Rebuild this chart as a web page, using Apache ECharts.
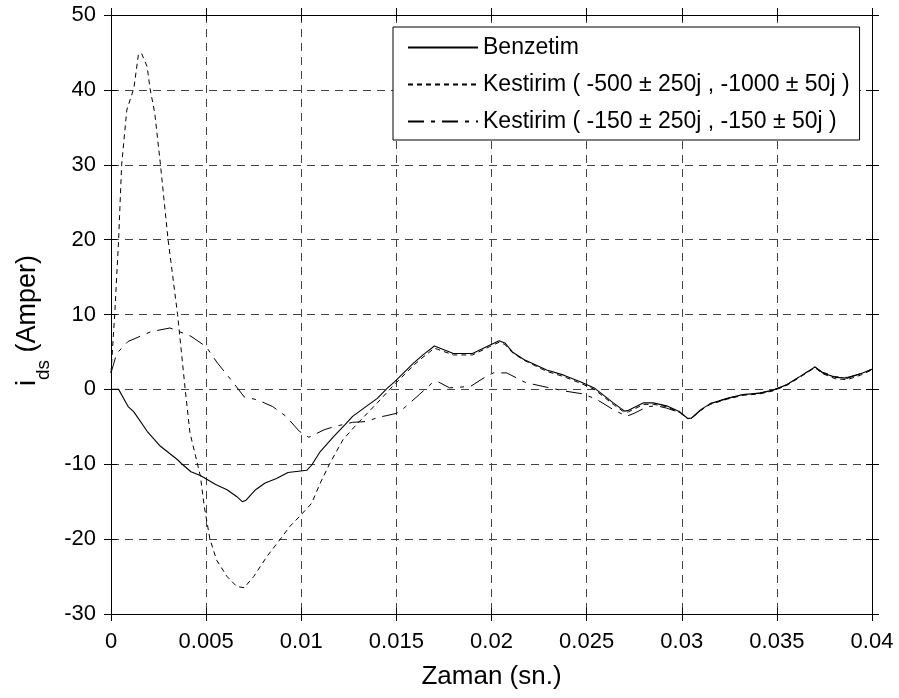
<!DOCTYPE html>
<html>
<head>
<meta charset="utf-8">
<script src="https://cdn.jsdelivr.net/npm/echarts@6/dist/echarts.min.js"></script>
<style>
html,body{margin:0;padding:0;background:#fff;}
#chart{width:899px;height:698px;}
</style>
</head>
<body>
<div id="chart"></div>
<script>
// ---- Data (time in s, current in A) ----
var seriesNames = ['Benzetim', 'Kestirim ( -500 \u00B1 250j , -1000 \u00B1 50j )', 'Kestirim ( -150 \u00B1 250j , -150 \u00B1 50j )'];

var benzetimT = [0, 0.0004, 0.0009, 0.0012, 0.0019, 0.0026, 0.0035, 0.0037, 0.0042, 0.0047, 0.0055, 0.0061, 0.0066, 0.0069, 0.0071, 0.0076, 0.0081, 0.0087, 0.0093, 0.0103, 0.01055, 0.011, 0.0117, 0.0123, 0.0127, 0.0134, 0.0140, 0.0145, 0.0149, 0.0159, 0.0164, 0.0170, 0.0180, 0.0190, 0.0199, 0.0204, 0.0207, 0.0211, 0.0217, 0.0229, 0.0238, 0.0247, 0.0254, 0.0264, 0.0270, 0.0272, 0.0280, 0.0285, 0.0292, 0.0299, 0.0303, 0.0305, 0.0310, 0.0315, 0.0324, 0.0332, 0.0341, 0.0348, 0.0355, 0.0362, 0.0370, 0.0374, 0.0381, 0.0387, 0.0394, 0.0400];
var benzetimV = [0, 0, -2.3, -3.0, -5.6, -7.6, -9.4, -9.9, -11.0, -11.5, -12.7, -13.4, -14.3, -15.0, -14.8, -13.4, -12.5, -11.9, -11.1, -10.8, -10.1, -8.3, -6.3, -4.7, -3.6, -2.3, -1.2, 0.1, 1.0, 3.5, 4.6, 5.8, 4.8, 4.8, 5.9, 6.5, 6.2, 5.0, 4.0, 2.6, 1.9, 1.0, 0.2, -1.8, -2.9, -2.8, -1.8, -1.8, -2.2, -3.0, -3.85, -3.85, -2.7, -1.9, -1.2, -0.7, -0.5, -0.1, 0.6, 1.7, 3.0, 2.2, 1.6, 1.5, 2.1, 2.7];

var kest1T = [0, 0.0002, 0.0004, 0.00056, 0.00083, 0.0012, 0.00144, 0.0016, 0.0019, 0.00205, 0.0023, 0.0026, 0.0030, 0.0035, 0.0039, 0.00415, 0.0047, 0.0049, 0.0052, 0.00555, 0.0061, 0.0066, 0.0070, 0.0075, 0.0082, 0.0089, 0.0094, 0.0099, 0.01055, 0.011, 0.0115, 0.0122, 0.0129, 0.0140, 0.0148, 0.0159, 0.0164, 0.0170, 0.0180, 0.0190, 0.0199, 0.0204, 0.0207, 0.0211, 0.0217, 0.0229, 0.0238, 0.0247, 0.0254, 0.0264, 0.0270, 0.0272, 0.0280, 0.0285, 0.0292, 0.0299, 0.0303, 0.0305, 0.0310, 0.0315, 0.0324, 0.0332, 0.0341, 0.0348, 0.0355, 0.0362, 0.0370, 0.0374, 0.0381, 0.0387, 0.0394, 0.0400];
var kest1V = [2.2, 10.2, 20, 30, 37.3, 40.2, 44.7, 44.9, 43.1, 40.2, 36.9, 30, 20, 10, 0, -5.8, -11.6, -15.6, -20, -22.8, -25, -26.3, -26.5, -25, -22.3, -20, -18.3, -17, -15.2, -12.5, -9.9, -6.7, -4.7, -1.8, 0.4, 3.2, 4.3, 5.5, 4.6, 4.6, 5.7, 6.3, 6.0, 4.9, 3.9, 2.4, 1.7, 0.8, 0.0, -2.0, -3.1, -3.0, -2.0, -2.0, -2.3, -3.1, -3.9, -3.9, -2.8, -2.0, -1.3, -0.8, -0.6, -0.2, 0.5, 1.6, 2.9, 2.1, 1.4, 1.3, 1.9, 2.6];

var kest2T = [0, 0.0003, 0.0009, 0.0021, 0.0031, 0.0042, 0.0050, 0.0056, 0.0064, 0.0070, 0.0077, 0.0085, 0.0092, 0.0099, 0.0104, 0.0112, 0.0117, 0.0127, 0.0134, 0.0141, 0.0145, 0.0150, 0.0154, 0.0162, 0.0169, 0.0172, 0.0178, 0.0189, 0.0197, 0.0201, 0.0208, 0.0218, 0.0227, 0.0238, 0.0248, 0.0255, 0.0264, 0.0271, 0.0275, 0.0282, 0.0287, 0.0292, 0.0299, 0.0303, 0.0305, 0.0310, 0.0315, 0.0324, 0.0332, 0.0341, 0.0348, 0.0355, 0.0362, 0.0370, 0.0374, 0.0381, 0.0387, 0.0394, 0.0400];
var kest2V = [2.2, 4.8, 6.4, 7.7, 8.2, 7.1, 5.7, 3.5, 1.0, -1.0, -1.4, -2.3, -3.6, -5.6, -6.4, -5.4, -5.0, -4.4, -4.3, -3.7, -3.5, -3.2, -2.5, -0.7, 0.9, 1.0, 0.2, 0.4, 1.7, 2.2, 2.2, 0.9, 0.4, -0.2, -0.6, -1.3, -2.7, -3.6, -3.2, -2.3, -2.2, -2.5, -3.1, -3.9, -3.9, -2.8, -1.9, -1.2, -0.7, -0.5, -0.1, 0.6, 1.7, 3.0, 2.3, 1.7, 1.6, 2.1, 2.7];

var xMin = 0, xMax = 0.04, xStep = 0.005;
var yMin = -30, yMax = 50, yStep = 10;

function zip(t, v) { return t.map(function (x, i) { return [x, v[i]]; }); }

var FONT = '"Liberation Sans", Arial, sans-serif';
var chart = echarts.init(document.getElementById('chart'));

function xAx(pos, inside, main) {
  var isMain = main && pos === 'bottom' && !inside;
  return {
    type: 'value', position: pos, min: xMin, max: xMax, interval: xStep,
    axisLine: { show: main, onZero: false, lineStyle: { color: '#000', width: 1 } },
    axisTick: { show: true, inside: inside, length: inside ? 6 : 7, lineStyle: { color: '#000' } },
    axisLabel: { show: isMain, margin: 17, color: '#000', fontSize: 22, fontFamily: FONT,
      formatter: function (v) { return String(+v.toFixed(3)); } },
    splitLine: { show: isMain, lineStyle: { color: '#444', type: [8, 6], width: 1 } },
    name: isMain ? 'Zaman (sn.)' : '',
    nameLocation: 'middle', nameGap: 50,
    nameTextStyle: { color: '#000', fontSize: 26, fontFamily: FONT }
  };
}
function yAx(pos, inside, main) {
  var isMain = main && pos === 'left' && !inside;
  return {
    type: 'value', position: pos, min: yMin, max: yMax, interval: yStep,
    axisLine: { show: main, onZero: false, lineStyle: { color: '#000', width: 1 } },
    axisTick: { show: true, inside: inside, length: inside ? 6 : 7, lineStyle: { color: '#000' } },
    axisLabel: { show: isMain, margin: 15, color: '#000', fontSize: 22, fontFamily: FONT },
    splitLine: { show: isMain, lineStyle: { color: '#444', type: [8, 6], width: 1 } },
    name: isMain ? '{m|i}{s|ds}{m| (Amper)}' : '',
    nameLocation: 'middle', nameGap: 58,
    nameTextStyle: {
      color: '#000', fontSize: 27, fontFamily: FONT, padding: [0, 12, 0, 0],
      rich: {
        m: { fontSize: 27, fontFamily: FONT, color: '#000', lineHeight: 50 },
        s: { fontSize: 19, fontFamily: FONT, color: '#000', lineHeight: 8, verticalAlign: 'bottom' }
      }
    }
  };
}

var lineBase = { type: 'line', symbol: 'none', showSymbol: false, smooth: false, animation: false, z: 5 };

var option = {
  animation: false,
  backgroundColor: '#fff',
  textStyle: { fontFamily: FONT },
  grid: { left: 111, right: 27, top: 15, bottom: 84, containLabel: false },
  xAxis: [xAx('bottom', false, true), xAx('bottom', true, false), xAx('top', true, true), xAx('top', false, false)],
  yAxis: [yAx('left', false, true), yAx('left', true, false), yAx('right', true, true), yAx('right', false, false)],
  legend: {
    orient: 'vertical', left: 393, top: 27,
    backgroundColor: '#fff', borderColor: '#000', borderWidth: 1, borderRadius: 0,
    padding: [9, 10, 7, 14], itemGap: 14, itemWidth: 70, itemHeight: 23,
    itemStyle: { opacity: 0, color: 'transparent', borderColor: 'transparent', borderWidth: 0 },
    textStyle: { color: '#000', fontSize: 23, fontFamily: FONT },
    data: seriesNames, z: 20, selectedMode: false
  },
  series: [
    Object.assign({}, lineBase, { name: seriesNames[0], data: zip(benzetimT, benzetimV), lineStyle: { color: '#000', width: 1.1, type: 'solid' }, itemStyle: { color: '#000' } }),
    Object.assign({}, lineBase, { name: seriesNames[1], data: zip(kest1T, kest1V), lineStyle: { color: '#000', width: 1, type: [5, 4] }, itemStyle: { color: '#000' } }),
    Object.assign({}, lineBase, { name: seriesNames[2], data: zip(kest2T, kest2V), lineStyle: { color: '#000', width: 1, type: [16, 7, 4, 7] }, itemStyle: { color: '#000' } })
  ]
};
chart.setOption(option);
</script>
</body>
</html>
